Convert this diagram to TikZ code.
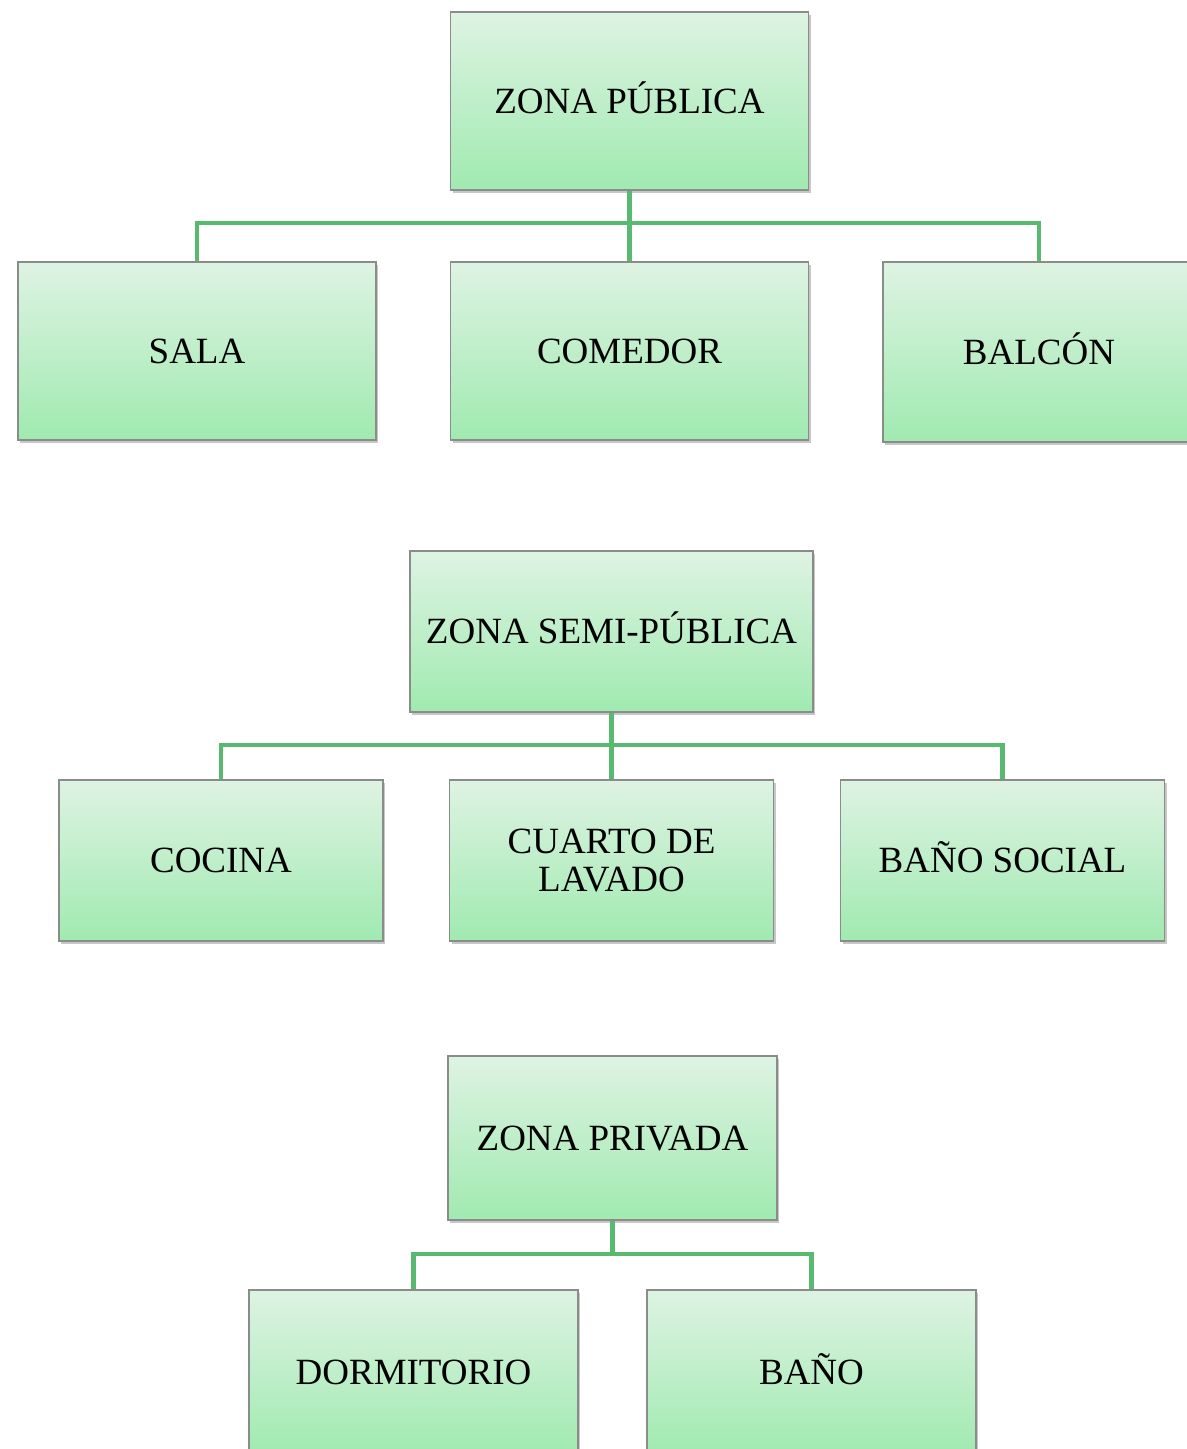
\documentclass[tikz,border=0pt]{standalone}
\usepackage{fontspec}
\setmainfont{Liberation Serif}
\usetikzlibrary{shadows}
\definecolor{boxtop}{RGB}{222,243,227}
\definecolor{boxbot}{RGB}{160,234,176}
\definecolor{boxline}{RGB}{138,140,138}
\definecolor{linkgreen}{RGB}{88,186,112}

\tikzset{
  zonebox/.style={rectangle, draw=boxline, line width=0.6pt,
    top color=boxtop, bottom color=boxbot,
    drop shadow={shadow xshift=1.2pt, shadow yshift=-1.5pt, opacity=0.22, fill=black},
    inner sep=2pt, align=center, text height=12.2pt, text depth=0pt,
    font=\fontsize{18.5}{19}\selectfont},
  wide/.style={zonebox, minimum width=179pt, minimum height=89pt},
  mid/.style={zonebox, minimum width=162pt, minimum height=80.5pt},
  small/.style={zonebox, minimum width=164.5pt, minimum height=82pt},
  link/.style={draw=linkgreen, line width=2.2pt}
}

\begin{document}
\begin{tikzpicture}[x=0.5pt, y=-0.5pt]
  \useasboundingbox (0,0) rectangle (1187,1449);
  \clip (0,0) rectangle (1187,1449);

  % zona publica
  \coordinate (bus1) at (629.5,223);
  \node[wide] (pub) at (629.5,101) {ZONA PÚBLICA};
  \node[wide] (sala) at (197,351) {SALA};
  \node[wide] (comedor) at (629.5,351) {COMEDOR};
  \node[zonebox, minimum width=156pt, minimum height=90pt] (balcon) at (1039,352) {BALCÓN};
  \draw[link] (sala.north) |- (bus1) -| (balcon.north);
  \draw[link] (pub.south) -- (comedor.north);

  % zona semi-publica
  \coordinate (bus2) at (611.5,745);
  \node[zonebox, minimum width=201.5pt, minimum height=80.5pt] (semi) at (611.5,631.5) {ZONA SEMI-PÚBLICA};
  \node[mid] (cocina) at (221,860.5) {COCINA};
  \node[mid, text height=31.2pt] (lavado) at (611.5,860.5) {CUARTO DE\\LAVADO};
  \node[mid] (banosoc) at (1002.5,860.5) {BAÑO SOCIAL};
  \draw[link] (cocina.north) |- (bus2) -| (banosoc.north);
  \draw[link] (semi.south) -- (lavado.north);

  % zona privada
  \coordinate (bus3) at (612.5,1254);
  \node[small] (priv) at (612.5,1138) {ZONA PRIVADA};
  \node[small] (dorm) at (413.5,1372) {DORMITORIO};
  \node[small] (bano) at (811.5,1372) {BAÑO};
  \draw[link] (dorm.north) |- (bus3) -| (bano.north);
  \draw[link] (priv.south) -- (bus3);
\end{tikzpicture}
\end{document}
